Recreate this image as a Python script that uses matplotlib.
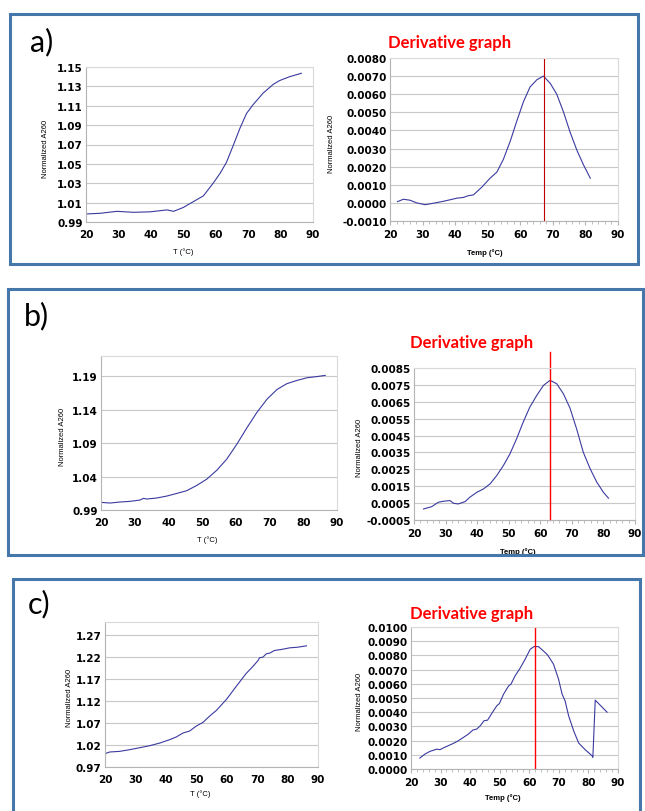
import numpy as np
import matplotlib
matplotlib.use('Agg')
import matplotlib.pyplot as plt
from matplotlib.patches import Rectangle
from matplotlib.ticker import MultipleLocator, FixedLocator, FormatStrFormatter

# a) melting curve and its derivative
a_melt_t = [20, 24.4, 29.5, 34.7, 39.8, 45, 47, 50, 53.1, 56.2, 59.2, 61.3, 63.3, 65.4,
            67.5, 69.5, 71.5, 74.6, 77.7, 79.7, 82.8, 86.4]
a_melt_y = [0.9983, 0.999, 1.001, 1.000, 1.0005, 1.0025, 1.001, 1.005, 1.011, 1.017, 1.030,
            1.040, 1.0515, 1.069, 1.087, 1.102, 1.111, 1.123, 1.132, 1.136, 1.140, 1.1435]
a_deriv_t = [22.3, 24.1, 26.1, 28.2, 30.8, 33.3, 35.9, 38.4, 40.5, 42.5, 44.1, 45.6, 48.2,
             50.7, 52.8, 54.8, 56.9, 58.9, 61.0, 63.0, 65.1, 67.1, 69.2, 71.2, 73.3, 75.3,
             77.4, 79.4, 81.5]
a_deriv_y = [0.00007, 0.0002, 0.00015, 0.0, -0.0001, -0.00002, 0.00007, 0.00017, 0.00026,
             0.0003, 0.0004, 0.00044, 0.00087, 0.00136, 0.0017, 0.0024, 0.0034, 0.0045,
             0.0056, 0.0064, 0.0068, 0.0070, 0.0066, 0.0060, 0.0050, 0.0039, 0.0029,
             0.0021, 0.00136]
a_peak = 67.2
a_melt_ticks = [0.99, 1.01, 1.03, 1.05, 1.07, 1.09, 1.11, 1.13, 1.15]
a_deriv_ticks = [-0.001, 0.0, 0.001, 0.002, 0.003, 0.004, 0.005, 0.006, 0.007, 0.008]

# b)
b_melt_t = [20, 22.7, 25.6, 28.6, 31.6, 32.6, 33.6, 36.5, 39.5, 42.5, 45.4, 48.4, 51.4,
            54.4, 57.3, 60.3, 63.3, 66.2, 69.2, 72.2, 75.1, 78.1, 81.1, 83.6, 86.5]
b_melt_y = [1.0014, 1.0004, 1.0019, 1.0029, 1.0049, 1.0074, 1.0064, 1.0079, 1.0108, 1.0148,
            1.0188, 1.0267, 1.0362, 1.0496, 1.066, 1.0883, 1.113, 1.1354, 1.1553, 1.170,
            1.1786, 1.1835, 1.1875, 1.189, 1.191]
b_deriv_t = [23, 25.6, 27.7, 29.3, 31.4, 32.5, 34, 36.2, 37.7, 39.9, 42, 44.1, 46.2, 48.3,
             50.4, 52.5, 54.6, 56.7, 58.9, 61, 63.1, 65.2, 67.3, 69.4, 71.5, 73.6, 75.8,
             77.9, 80, 81.6]
b_deriv_y = [0.00015, 0.00029, 0.00055, 0.00061, 0.00065, 0.00049, 0.00045, 0.00059,
             0.00085, 0.00114, 0.00134, 0.00164, 0.00213, 0.00272, 0.00342, 0.00431,
             0.0053, 0.00619, 0.00688, 0.00747, 0.00777, 0.00757, 0.00698, 0.00613,
             0.0049, 0.00352, 0.00253, 0.00174, 0.00114, 0.00079]
b_peak = 63.1
b_melt_ticks = [0.99, 1.04, 1.09, 1.14, 1.19]
b_deriv_ticks = [-0.0005, 0.0005, 0.0015, 0.0025, 0.0035, 0.0045, 0.0055, 0.0065,
                 0.0075, 0.0085]

# c)
c_melt_t = [20, 21.5, 24.8, 28.1, 31.4, 34.7, 38, 41.2, 43.4, 45.6, 47.8, 50, 52.2, 54.4,
            56.6, 59.9, 63.2, 66.4, 68.6, 70.3, 70.8, 71.9, 73, 74.1, 75.7, 77.9, 80.7,
            83.4, 86.2]
c_melt_y = [1.0003, 1.0041, 1.0056, 1.0094, 1.0139, 1.0185, 1.0245, 1.0321, 1.0382, 1.0473,
            1.0518, 1.0632, 1.0715, 1.0859, 1.0988, 1.1238, 1.1541, 1.1829, 1.1988, 1.2124,
            1.2185, 1.22, 1.2276, 1.2291, 1.2352, 1.2374, 1.2412, 1.2427, 1.2458]
c_deriv_t = [23, 24.7, 26.4, 28.7, 29.8, 30.9, 32.6, 34.3, 36, 37.7, 39.4, 40.9, 42.2, 43.4,
             44.7, 45.9, 47.3, 49, 49.9, 51.3, 53, 53.8, 55.2, 56.9, 58.6, 60.3, 61.6, 63.1,
             64.8, 66.2, 68.2, 69.9, 71.1, 72.1, 73.3, 75, 76.7, 78.9, 81.2, 81.5, 82.3, 86.3]
c_deriv_y = [0.00077, 0.00105, 0.00124, 0.0014, 0.00136, 0.00148, 0.00164, 0.0018, 0.00199,
             0.00222, 0.00246, 0.00274, 0.00281, 0.00304, 0.0034, 0.00344, 0.00391, 0.00445,
             0.00461, 0.00527, 0.00585, 0.00597, 0.00656, 0.0071, 0.00773, 0.00843, 0.00862,
             0.00862, 0.00831, 0.00803, 0.00738, 0.00632, 0.00527, 0.0048, 0.00375, 0.00269,
             0.00183, 0.00136, 0.00094, 0.00082, 0.00485, 0.0040]
c_peak = 61.8
c_melt_ticks = [0.97, 1.02, 1.07, 1.12, 1.17, 1.22, 1.27]
c_deriv_ticks = [0.0, 0.001, 0.002, 0.003, 0.004, 0.005, 0.006, 0.007, 0.008, 0.009, 0.010]

W, H = 645, 812
fig = plt.figure(figsize=(W / 100, H / 100), dpi=100)

line_col = '#3a3aa0'


def px_axes(x0, y0, x1, y1):
    # axes from pixel box (top-left origin)
    return fig.add_axes([x0 / W, 1 - y1 / H, (x1 - x0) / W, (y1 - y0) / H])


def style(ax, ylim, yticks, fmt, xlab, xlab_pos, ylab_x, deriv=False):
    ax.set_xlim(20, 90)
    ax.set_ylim(*ylim)
    ax.xaxis.set_major_locator(MultipleLocator(10))
    ax.yaxis.set_major_locator(FixedLocator(yticks))
    ax.yaxis.set_major_formatter(FormatStrFormatter(fmt))
    ax.grid(axis='y', color='#c8c8c8', lw=0.8)
    ax.set_axisbelow(True)
    for s in ['top', 'right']:
        ax.spines[s].set_color('#dadada')
        ax.spines[s].set_linewidth(0.8)
    for s in ['left', 'bottom']:
        ax.spines[s].set_color('#b4b4b4')
        ax.spines[s].set_linewidth(0.8)
    ax.tick_params(axis='y', length=0, pad=2.5)
    if deriv:
        ax.xaxis.set_minor_locator(MultipleLocator(2))
        ax.tick_params(axis='x', which='major', length=3, color='#b4b4b4', pad=3)
        ax.tick_params(axis='x', which='minor', length=2, color='#b4b4b4')
    else:
        ax.tick_params(axis='x', length=0, pad=5)
    for lab in ax.get_xticklabels() + ax.get_yticklabels():
        lab.set_fontfamily('DejaVu Sans')
        lab.set_fontweight('bold')
        lab.set_fontsize(7.5)
    ax.set_xlabel(xlab, fontsize=5.5, family='Liberation Sans',
                  weight='bold' if deriv else 'normal')
    ax.xaxis.set_label_coords(*xlab_pos)
    ax.set_ylabel('Normalized A260', fontsize=5.5, family='Liberation Sans')
    ax.yaxis.set_label_coords(ylab_x, 0.48)


# panel borders
for (x0, y0, x1, y1) in [(10, 15, 638, 265), (8, 290, 643, 556), (13, 580, 640, 830)]:
    fig.patches.append(Rectangle((x0 / W, 1 - y1 / H), (x1 - x0) / W, (y1 - y0) / H,
                                 transform=fig.transFigure, fill=False,
                                 edgecolor='#4677aa', lw=2.2))

# a)
ax = px_axes(86, 68, 313, 223)
ax.plot(a_melt_t, a_melt_y, color=line_col, lw=0.8)
style(ax, (0.99, 1.15), a_melt_ticks, '%.2f', 'T (°C)', (0.43, -0.161), -0.163)

ax = px_axes(390, 59, 618, 222)
ax.plot(a_deriv_t, a_deriv_y, color=line_col, lw=0.8)
ax.axvline(a_peak, color='#c00000', lw=0.8)
style(ax, (-0.001, 0.008), a_deriv_ticks, '%.4f', 'Temp (°C)', (0.417, -0.166), -0.241,
      deriv=True)

# b)
ax = px_axes(101, 357, 337, 511)
ax.plot(b_melt_t, b_melt_y, color=line_col, lw=0.8)
style(ax, (0.99, 1.22), b_melt_ticks, '%.2f', 'T (°C)', (0.449, -0.162), -0.148)

ax = px_axes(414, 369, 635, 521)
ax.plot(b_deriv_t, b_deriv_y, color=line_col, lw=0.8)
ax.axvline(b_peak, ymin=0, ymax=1.105, clip_on=False, color='red', lw=1.0)
style(ax, (-0.0005, 0.0085), b_deriv_ticks, '%.4f', 'Temp (°C)', (0.47, -0.178), -0.231,
      deriv=True)

# c)
ax = px_axes(105, 623, 318, 768)
ax.plot(c_melt_t, c_melt_y, color=line_col, lw=0.8)
style(ax, (0.97, 1.30), c_melt_ticks, '%.2f', 'T (°C)', (0.446, -0.152), -0.150)

ax = px_axes(411, 628, 618, 770)
ax.plot(c_deriv_t, c_deriv_y, color=line_col, lw=0.8)
ax.axvline(c_peak, color='red', lw=1.0)
style(ax, (0, 0.01), c_deriv_ticks, '%.4f', 'Temp (°C)', (0.444, -0.169), -0.232,
      deriv=True)

# titles and panel letters
for (x, y) in [(450, 43), (472, 343), (472, 614)]:
    fig.text(x / W, 1 - y / H, 'Derivative graph', color='red', fontsize=12,
             family='Lato', weight='bold', ha='center', va='center')
for (x, y, s) in [(30, 42, 'a)'), (24, 316, 'b)'), (28, 604, 'c)')]:
    fig.text(x / W, 1 - y / H, s, fontsize=22, family='Lato', ha='left', va='center')

fig.savefig('out.png', dpi=100)
